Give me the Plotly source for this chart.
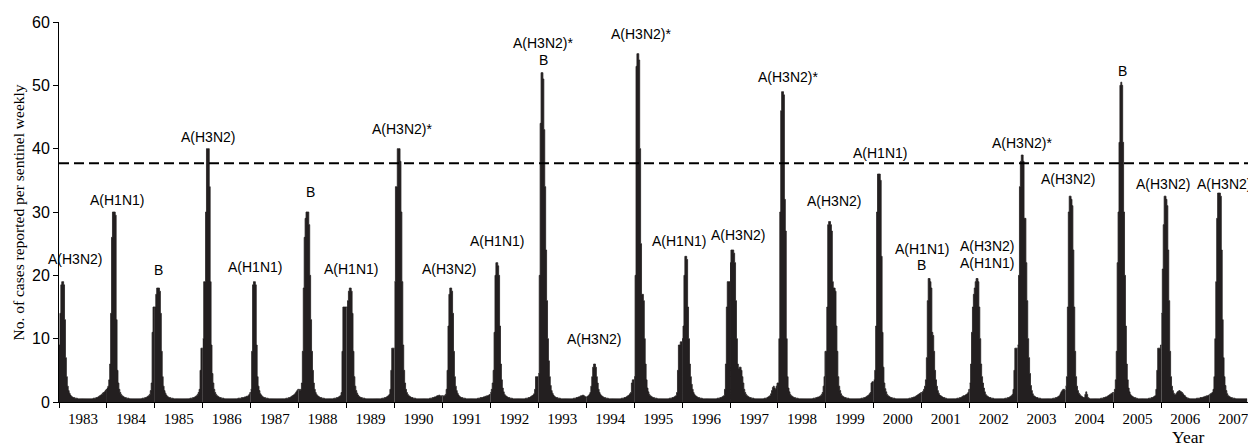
import plotly.graph_objects as go

# ---------------- data: weekly cases per sentinel (weeks 1..52 of each year) ----------------
w1983 = [9, 14, 18.5, 19, 19, 18.5, 13, 7, 4, 2.5, 1.8, 1.4, 1.1,
         0.9, 0.8, 0.7, 0.7, 0.6, 0.6, 0.6, 0.5, 0.5, 0.5, 0.5, 0.5, 0.5,
         0.5, 0.5, 0.5, 0.5, 0.5, 0.5, 0.5, 0.5, 0.5, 0.5, 0.5, 0.6, 0.6,
         0.6, 0.7, 0.7, 0.8, 0.9, 1.0, 1.1, 1.2, 1.4, 1.5, 1.6, 1.8, 2.0]
w1984 = [2.2, 2.5, 3.5, 6, 14, 26, 30, 30, 30, 29.5, 13, 5, 3,
         2, 1.5, 1.2, 1.0, 0.9, 0.8, 0.7, 0.7, 0.6, 0.6, 0.6, 0.5, 0.5,
         0.5, 0.5, 0.5, 0.5, 0.5, 0.5, 0.5, 0.5, 0.5, 0.5, 0.5, 0.5, 0.6,
         0.6, 0.6, 0.7, 0.7, 0.8, 0.9, 1.0, 1.2, 1.8, 3, 11, 15, 15]
w1985 = [15, 17, 18, 18, 18, 17.5, 14, 8, 4, 2.5, 1.8, 1.4, 1.1,
         0.9, 0.8, 0.7, 0.7, 0.6, 0.6, 0.6, 0.5, 0.5, 0.5, 0.5, 0.5, 0.5,
         0.5, 0.5, 0.5, 0.5, 0.5, 0.5, 0.5, 0.5, 0.5, 0.5, 0.5, 0.5, 0.6,
         0.6, 0.6, 0.7, 0.7, 0.8, 0.9, 1.0, 1.2, 1.5, 2, 5, 8.5, 8.5]
w1986 = [10, 19, 19, 30, 40, 40, 40, 34, 19, 9, 4.5, 3, 2,
         1.5, 1.2, 1.0, 0.9, 0.8, 0.7, 0.7, 0.6, 0.6, 0.6, 0.5, 0.5, 0.5,
         0.5, 0.5, 0.5, 0.5, 0.5, 0.5, 0.5, 0.5, 0.5, 0.5, 0.5, 0.5, 0.6,
         0.6, 0.6, 0.6, 0.7, 0.7, 0.7, 0.8, 0.8, 0.9, 0.9, 1.0, 1.2, 1.5]
w1987 = [2, 8, 18.5, 19, 19, 18.5, 9, 4, 2.5, 1.8, 1.3, 1.1, 0.9,
         0.8, 0.7, 0.7, 0.6, 0.6, 0.6, 0.5, 0.5, 0.5, 0.5, 0.5, 0.5, 0.5,
         0.5, 0.5, 0.5, 0.5, 0.5, 0.5, 0.5, 0.5, 0.5, 0.5, 0.5, 0.5, 0.6,
         0.6, 0.6, 0.7, 0.7, 0.8, 0.9, 1.0, 1.1, 1.2, 1.4, 1.6, 1.8, 2.0]
w1988 = [2, 1.8, 2, 3, 8, 18, 26, 29, 30, 30, 30, 28, 20,
         13, 8, 5, 3, 2, 1.5, 1.2, 1.0, 0.9, 0.8, 0.7, 0.7, 0.6,
         0.6, 0.6, 0.5, 0.5, 0.5, 0.5, 0.5, 0.5, 0.5, 0.5, 0.5, 0.5, 0.6,
         0.6, 0.6, 0.7, 0.7, 0.8, 0.9, 1.0, 1.5, 8, 15, 15, 15, 15]
w1989 = [15, 16, 17.5, 18, 18, 17.5, 14, 8, 4, 2.5, 1.8, 1.4, 1.1,
         0.9, 0.8, 0.7, 0.7, 0.6, 0.6, 0.6, 0.5, 0.5, 0.5, 0.5, 0.5, 0.5,
         0.5, 0.5, 0.5, 0.5, 0.5, 0.5, 0.5, 0.5, 0.5, 0.5, 0.5, 0.5, 0.6,
         0.6, 0.6, 0.7, 0.7, 0.8, 0.9, 1.0, 1.2, 2, 5, 8.5, 8.5, 8.5]
w1990 = [19, 34, 34, 40, 40, 40, 38, 30, 19, 9, 5, 3, 2,
         1.5, 1.2, 1.0, 0.9, 0.8, 0.7, 0.7, 0.6, 0.6, 0.6, 0.5, 0.5, 0.5,
         0.5, 0.5, 0.5, 0.5, 0.5, 0.5, 0.5, 0.5, 0.5, 0.5, 0.5, 0.5, 0.6,
         0.6, 0.6, 0.7, 0.7, 0.8, 0.8, 0.9, 1.0, 1.0, 1.1, 1.0, 0.9, 1.0]
w1991 = [1.0, 0.9, 1.0, 1.2, 2, 5, 12, 17, 18, 18, 17.5, 14, 8,
         4, 2.5, 1.8, 1.4, 1.1, 0.9, 0.8, 0.7, 0.7, 0.6, 0.6, 0.6, 0.5,
         0.5, 0.5, 0.5, 0.5, 0.5, 0.5, 0.5, 0.5, 0.5, 0.5, 0.5, 0.5, 0.6,
         0.6, 0.6, 0.7, 0.7, 0.7, 0.8, 0.8, 0.9, 0.9, 1.0, 1.0, 1.1, 1.2]
w1992 = [1.5, 2, 3, 5, 11, 20, 22, 22, 21.5, 20, 12, 6, 3.5,
         2.2, 1.6, 1.2, 1.0, 0.9, 0.8, 0.7, 0.7, 0.6, 0.6, 0.6, 0.5, 0.5,
         0.5, 0.5, 0.5, 0.5, 0.5, 0.5, 0.5, 0.5, 0.5, 0.5, 0.5, 0.5, 0.6,
         0.6, 0.6, 0.7, 0.7, 0.8, 0.9, 1.0, 1.1, 1.3, 2, 4, 4, 4]
w1993 = [4.5, 20, 44, 52, 52, 51, 43, 34, 24, 16, 10, 6.5, 4,
         2.6, 1.8, 1.4, 1.1, 0.9, 0.8, 0.7, 0.7, 0.6, 0.6, 0.6, 0.5, 0.5,
         0.5, 0.5, 0.5, 0.5, 0.5, 0.5, 0.5, 0.5, 0.5, 0.5, 0.5, 0.5, 0.6,
         0.6, 0.6, 0.7, 0.7, 0.8, 0.8, 0.9, 1.0, 1.0, 1.1, 1.0, 0.9, 0.8]
w1994 = [0.8, 0.9, 1.0, 1.2, 1.5, 2.5, 4, 5.5, 6, 6, 5.5, 4, 3,
         2, 1.5, 1.2, 1.0, 0.9, 0.8, 0.7, 0.7, 0.6, 0.6, 0.6, 0.5, 0.5,
         0.5, 0.5, 0.5, 0.5, 0.5, 0.5, 0.5, 0.5, 0.5, 0.5, 0.5, 0.5, 0.6,
         0.6, 0.6, 0.7, 0.7, 0.8, 0.9, 1.0, 1.1, 1.3, 1.5, 3, 3.5, 3.5]
w1995 = [4, 20, 53, 55, 55, 54, 40, 25, 17, 17, 16, 10, 6,
         3.5, 2.2, 1.6, 1.2, 1.0, 0.9, 0.8, 0.7, 0.7, 0.6, 0.6, 0.6, 0.5,
         0.5, 0.5, 0.5, 0.5, 0.5, 0.5, 0.5, 0.5, 0.5, 0.5, 0.5, 0.5, 0.6,
         0.6, 0.6, 0.7, 0.7, 0.8, 0.9, 1.0, 1.5, 5, 9, 9, 9.5, 9.5]
w1996 = [10, 12, 20, 23, 23, 22.5, 15, 10, 6, 4, 2.8, 2, 1.5,
         1.2, 1.0, 0.9, 0.8, 0.7, 0.7, 0.6, 0.6, 0.6, 0.5, 0.5, 0.5, 0.5,
         0.5, 0.5, 0.5, 0.5, 0.5, 0.5, 0.5, 0.5, 0.5, 0.5, 0.5, 0.5, 0.6,
         0.6, 0.6, 0.7, 0.7, 0.8, 0.9, 1.0, 2, 6, 15, 19, 19, 19]
w1997 = [22, 24, 24, 24, 23.5, 22, 16, 10, 6, 5.3, 5.5, 5.5, 5,
         4, 3, 2, 1.5, 1.2, 1.0, 0.9, 0.8, 0.7, 0.7, 0.6, 0.6, 0.6,
         0.5, 0.5, 0.5, 0.5, 0.5, 0.5, 0.5, 0.5, 0.5, 0.5, 0.5, 0.6, 0.6,
         0.6, 0.7, 0.8, 0.9, 1.0, 1.3, 1.8, 2.3, 2.5, 2.2, 2.0, 2.5, 3]
w1998 = [3, 10, 30, 46, 49, 49, 48.5, 32, 27, 10, 4, 2.2, 1.6,
         1.2, 1.0, 0.9, 0.8, 0.7, 0.7, 0.6, 0.6, 0.6, 0.5, 0.5, 0.5, 0.5,
         0.5, 0.5, 0.5, 0.5, 0.5, 0.5, 0.5, 0.5, 0.5, 0.5, 0.5, 0.5, 0.6,
         0.6, 0.6, 0.7, 0.7, 0.8, 0.8, 0.9, 1.0, 1.2, 1.5, 2.5, 4, 8]
w1999 = [8, 15, 28, 28.5, 28.5, 28, 27, 19, 18, 18, 17.5, 12, 8,
         4, 2.5, 1.8, 1.3, 1.0, 0.9, 0.8, 0.7, 0.7, 0.6, 0.6, 0.6, 0.5,
         0.5, 0.5, 0.5, 0.5, 0.5, 0.5, 0.5, 0.5, 0.5, 0.5, 0.5, 0.5, 0.6,
         0.6, 0.6, 0.7, 0.7, 0.8, 0.9, 1.0, 1.1, 1.3, 1.5, 3, 3.2, 3.2]
w2000 = [3.5, 5, 12, 30, 36, 36, 36, 35, 23, 11, 5.5, 3, 2.1,
         1.6, 1.2, 1.0, 0.9, 0.8, 0.7, 0.7, 0.6, 0.6, 0.6, 0.5, 0.5, 0.5,
         0.5, 0.5, 0.5, 0.5, 0.5, 0.5, 0.5, 0.5, 0.5, 0.5, 0.5, 0.5, 0.6,
         0.6, 0.6, 0.7, 0.7, 0.8, 0.8, 0.9, 1.0, 1.1, 1.2, 1.3, 1.4, 1.5]
w2001 = [1.5, 1.7, 2, 2.5, 3.5, 7, 16, 19.5, 19.5, 19, 18, 11, 10.5,
         8, 5, 3.5, 2.5, 1.8, 1.4, 1.1, 1.0, 0.9, 0.8, 0.7, 0.7, 0.6,
         0.6, 0.5, 0.5, 0.5, 0.5, 0.5, 0.5, 0.5, 0.5, 0.5, 0.5, 0.5, 0.6,
         0.6, 0.6, 0.7, 0.7, 0.8, 0.9, 1.0, 1.0, 1.1, 1.2, 1.3, 1.5, 2]
w2002 = [3, 6, 11, 15, 17, 18, 19, 19.5, 19.5, 19, 15, 10, 6,
         4, 3, 2.2, 1.6, 1.2, 1.0, 0.9, 0.8, 0.7, 0.7, 0.6, 0.6, 0.6,
         0.5, 0.5, 0.5, 0.5, 0.5, 0.5, 0.5, 0.5, 0.5, 0.5, 0.5, 0.5, 0.6,
         0.6, 0.6, 0.7, 0.7, 0.8, 0.9, 1.0, 1.2, 2, 5, 8.5, 8.5, 8.5]
w2003 = [9, 20, 34, 38, 39, 39, 38, 29, 29, 22, 16, 10, 7,
         4.5, 2.6, 1.8, 1.3, 1.0, 0.9, 0.8, 0.7, 0.7, 0.6, 0.6, 0.6, 0.5,
         0.5, 0.5, 0.5, 0.5, 0.5, 0.5, 0.5, 0.5, 0.5, 0.5, 0.5, 0.5, 0.6,
         0.6, 0.6, 0.7, 0.7, 0.8, 0.9, 1.0, 1.3, 1.6, 1.8, 2.0, 2.0, 1.8]
w2004 = [2.5, 4, 15, 30, 32.5, 32.5, 32, 31, 24, 15, 8, 4, 2.5,
         1.8, 1.4, 1.2, 1.0, 0.9, 0.8, 0.7, 0.7, 1.2, 1.6, 1.2, 0.7, 0.6,
         0.5, 0.5, 0.5, 0.5, 0.5, 0.5, 0.5, 0.5, 0.5, 0.5, 0.5, 0.5, 0.6,
         0.6, 0.6, 0.7, 0.7, 0.8, 0.8, 0.9, 1.0, 1.1, 1.2, 1.3, 1.4, 1.5]
w2005 = [1.5, 2, 3.5, 8, 22, 30, 41, 50, 50.5, 50, 41, 30, 20,
         12, 6, 3.5, 2.2, 1.6, 1.2, 1.0, 0.9, 0.8, 0.7, 0.7, 0.6, 0.6,
         0.5, 0.5, 0.5, 0.5, 0.5, 0.5, 0.5, 0.5, 0.5, 0.5, 0.5, 0.5, 0.6,
         0.6, 0.6, 0.7, 0.7, 0.8, 0.9, 1.0, 2, 5, 8.5, 8.5, 8.5, 9]
w2006 = [14, 21, 28, 32.5, 32.5, 32, 31, 24, 16, 8, 4, 2.5, 1.8,
         1.4, 1.2, 1.2, 1.4, 1.6, 1.7, 1.8, 1.7, 1.6, 1.5, 1.3, 1.1, 1.0,
         0.8, 0.7, 0.6, 0.6, 0.5, 0.5, 0.5, 0.5, 0.5, 0.5, 0.5, 0.5, 0.6,
         0.6, 0.6, 0.6, 0.7, 0.7, 0.7, 0.8, 0.8, 0.9, 0.9, 1.0, 1.0, 1.1]
w2007 = [1.2, 1.3, 1.4, 1.5, 2, 4, 10, 19, 29, 33, 33, 33, 32.5,
         24, 13, 7, 4, 2.6, 1.8, 1.3, 1.0, 0.9, 0.8, 0.7, 0.7, 0.6,
         0.6, 0.6, 0.5, 0.5, 0.5, 0.5, 0.5, 0.5, 0.5, 0.5, 0.5, 0.5, 0.5,
         0.5, 0.5]

years = list(range(1983, 2008))
weekly = [w1983, w1984, w1985, w1986, w1987, w1988, w1989, w1990, w1991, w1992,
          w1993, w1994, w1995, w1996, w1997, w1998, w1999, w2000, w2001, w2002,
          w2003, w2004, w2005, w2006, w2007]
year_labels = [str(y) for y in years]

THRESHOLD = 37.7  # epidemic warning level (dashed line)

# strain annotations: text, x (year), y (cases)
label_text = ["A(H3N2)", "A(H1N1)", "B", "A(H3N2)", "A(H1N1)", "B", "A(H1N1)",
              "A(H3N2)*", "A(H3N2)", "A(H1N1)", "A(H3N2)*", "B", "A(H3N2)",
              "A(H3N2)*", "A(H1N1)", "A(H3N2)", "A(H3N2)*", "A(H3N2)", "A(H1N1)",
              "A(H1N1)", "B", "A(H3N2)", "A(H1N1)", "A(H3N2)*", "A(H3N2)", "B",
              "A(H3N2)", "A(H3N2)"]
label_x = [1983.334, 1984.204, 1985.080, 1986.115, 1987.089, 1988.253, 1989.086,
           1990.156, 1991.137, 1992.145, 1993.104, 1993.113, 1994.172,
           1995.139, 1995.929, 1997.160, 1998.203, 1999.169, 2000.129,
           2000.999, 2001.005, 2002.362, 2002.362, 2003.086, 2004.045, 2005.189,
           2006.040, 2007.296]
label_y = [22.58, 31.89, 20.84, 41.89, 21.36, 33.21, 21.05,
           43.03, 21.05, 25.45, 56.64, 53.99, 9.95,
           58.14, 25.45, 26.42, 51.24, 31.77, 39.39,
           24.16, 21.58, 24.66, 21.87, 40.97, 35.18, 52.34,
           34.45, 34.45]

# ---------------- figure ----------------
BAR_COLOR = "#231f20"
SANS = "Liberation Sans, Arial, sans-serif"
SERIF = "Liberation Serif, Times New Roman, serif"

fig = go.Figure()
for yr, vals in zip(years, weekly):
    xs = [yr + i / 52 for i in range(len(vals) + 1)]
    ys = list(vals) + [vals[-1]]
    fig.add_trace(go.Scatter(
        x=xs, y=ys, mode="lines", line=dict(shape="hv", width=0.8, color=BAR_COLOR),
        fill="tozeroy", fillcolor=BAR_COLOR, hoverinfo="skip", showlegend=False))

fig.add_shape(type="line", xref="paper", x0=0, x1=1, yref="y", y0=THRESHOLD, y1=THRESHOLD,
              line=dict(color="black", width=2, dash="10px,5px"), layer="above")

for t, x, y in zip(label_text, label_x, label_y):
    fig.add_annotation(x=x, y=y, text=t, showarrow=False, xanchor="center", yanchor="middle",
                       font=dict(family=SANS, size=14, color="black"))

fig.add_annotation(xref="paper", yref="paper", x=(18 - 59) / 1189, y=0.4987,
                   text="No. of cases reported per sentinel weekly", textangle=-90,
                   showarrow=False, xanchor="center", yanchor="middle",
                   font=dict(family=SERIF, size=15.5, color="black"))
fig.add_annotation(xref="paper", yref="paper", x=(1188 - 59) / 1189, y=(402 - 437.5) / 380,
                   text="Year", showarrow=False, xanchor="center", yanchor="middle",
                   font=dict(family=SERIF, size=17.5, color="black"))

x_end = 1983 + (1248 - 59) / 47.93
fig.update_layout(
    width=1248, height=446,
    margin=dict(l=59, r=0, t=22, b=44),
    paper_bgcolor="white", plot_bgcolor="white",
    showlegend=False,
    xaxis=dict(
        range=[1983, x_end], showgrid=False, zeroline=False,
        showline=True, linecolor="black", linewidth=1,
        tickmode="array", tickvals=[y + 0.5 for y in years], ticktext=year_labels,
        ticks="outside", ticklen=3, tickcolor="rgba(0,0,0,0)",
        ticklabeloverflow="allow",
        tickfont=dict(family=SERIF, size=15, color="black"),
        minor=dict(tickmode="array", tickvals=years, ticks="outside", ticklen=5,
                   tickwidth=1, tickcolor="black", showgrid=False),
    ),
    yaxis=dict(
        range=[0, 60], showgrid=False, zeroline=False,
        showline=True, linecolor="black", linewidth=1,
        tickmode="array", tickvals=[0, 10, 20, 30, 40, 50, 60],
        ticks="outside", ticklen=5, tickcolor="black",
        tickfont=dict(family=SANS, size=16, color="black"),
    ),
)

fig.write_html("out.html", config={"displayModeBar": False},
               post_script="document.body.style.margin='0px';document.body.style.overflow='hidden';")
